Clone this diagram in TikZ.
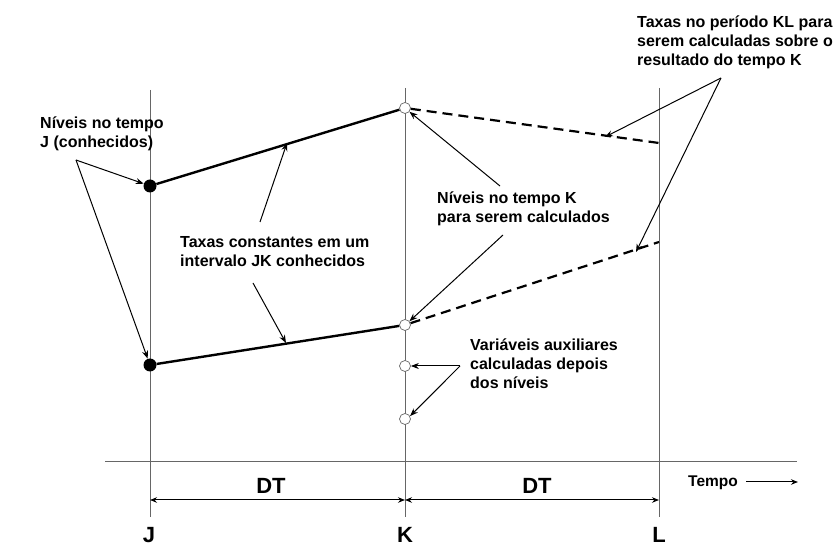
\documentclass[tikz,border=0pt]{standalone}
\usepackage{fontspec}
\setmainfont{Liberation Sans}
\usetikzlibrary{arrows.meta}
\begin{document}
\begin{tikzpicture}[x=1pt,y=-1pt,
  lbl/.style={font=\bfseries\fontsize{16}{19}\selectfont, align=left, inner sep=0pt},
  big/.style={font=\bfseries\fontsize{22}{24}\selectfont, inner sep=0pt},
  vline/.style={draw=black!60, line width=0.7pt},
  known/.style={circle, fill=black, minimum size=13pt, inner sep=0pt},
  unknown/.style={circle, draw=black!60, fill=white, minimum size=11pt, inner sep=0pt, line width=0.7pt},
  rate/.style={line width=2.4pt},
  future/.style={line width=2.2pt, dash pattern=on 10pt off 6pt},
  pointer/.style={-{Stealth[length=8pt,width=6pt]}, line width=1pt},
  dim/.style={{Stealth[length=7pt,width=5.5pt]}-{Stealth[length=7pt,width=5.5pt]}, line width=1pt}]
\useasboundingbox (0,0) rectangle (839,545);
% time lines
\coordinate (Jt) at (150,90); \coordinate (Jb) at (150,517);
\coordinate (Kt) at (405,88); \coordinate (Kb) at (405,517);
\coordinate (Lt) at (659,88); \coordinate (Lb) at (659,517);
\draw[vline] (Jt) -- (Jb);
\draw[vline] (Kt) -- (Kb);
\draw[vline] (Lt) -- (Lb);
\coordinate (ax1) at (105,461); \coordinate (ax2) at (797,461);
\draw[vline] (ax1) -- (ax2);
% level points
\node[known] (j1) at (150,186) {};
\node[known] (j2) at (150,365) {};
\node[unknown] (k1) at (405,108) {};
\node[unknown] (k2) at (405,325) {};
\node[unknown] (k3) at (405,366) {};
\node[unknown] (k4) at (405,419) {};
\coordinate (l1) at (659,143);
\coordinate (l2) at (659,242);
\draw[rate] (j1) -- (k1);
\draw[rate] (j2) -- (k2);
\draw[future] (k1) -- (l1);
\draw[future] (k2) -- (l2);
% labels
\node[lbl, anchor=north west] (tJ) at (40,117) {Níveis no tempo\\J (conhecidos)};
\node[lbl, anchor=north west] (tTx) at (180,236) {Taxas constantes em um\\intervalo JK conhecidos};
\node[lbl, anchor=north west] (tK) at (437,192) {Níveis no tempo K\\para serem calculados};
\node[lbl, anchor=north west] (tV) at (470,339) {Variáveis auxiliares\\calculadas depois\\dos níveis};
\node[lbl, anchor=north west] (tKL) at (637,16) {Taxas no período KL para\\serem calculadas sobre o\\resultado do tempo K};
% pointer arrows
\coordinate (pJ) at (76,160);
\draw[pointer] (pJ) -- (j1.160);
\draw[pointer] (pJ) -- (j2.110);
\coordinate (pT1) at (260,222); \coordinate (eT1) at (287,143);
\draw[pointer] (pT1) -- (eT1);
\coordinate (pT2) at (253,283); \coordinate (eT2) at (286,343);
\draw[pointer] (pT2) -- (eT2);
\coordinate (pK1) at (500,186);
\draw[pointer] (pK1) -- (k1.-40);
\coordinate (pK2) at (503,235);
\draw[pointer] (pK2) -- (k2.40);
\coordinate (pV) at (460,366);
\draw[pointer] (pV) -- (k3.east);
\draw[pointer] (pV) -- (k4.30);
\coordinate (pKL) at (721,78);
\coordinate (eKL1) at (605,137); \coordinate (eKL2) at (636,252);
\draw[pointer] (pKL) -- (eKL1);
\draw[pointer] (pKL) -- (eKL2);
% time axis
\coordinate (dJ) at (150,500); \coordinate (dK) at (405,500); \coordinate (dL) at (659,500);
\draw[dim] (dJ) -- (dK);
\draw[dim] (dK) -- (dL);
\node[big, anchor=base] (dt1) at (271,494) {DT};
\node[big, anchor=base] (dt2) at (537,494) {DT};
\node[big, anchor=base] (lJ) at (149,542) {J};
\node[big, anchor=base] (lK) at (405,542) {K};
\node[big, anchor=base] (lL) at (659,542) {L};
\node[font=\bfseries\fontsize{15.5}{17}\selectfont, inner sep=0pt, anchor=base west] (tempo) at (688,486) {Tempo};
\coordinate (tA) at (746,482); \coordinate (tB) at (798,482);
\draw[-{Stealth[length=7pt,width=5.5pt]}, line width=1pt] (tA) -- (tB);
\end{tikzpicture}
\end{document}
